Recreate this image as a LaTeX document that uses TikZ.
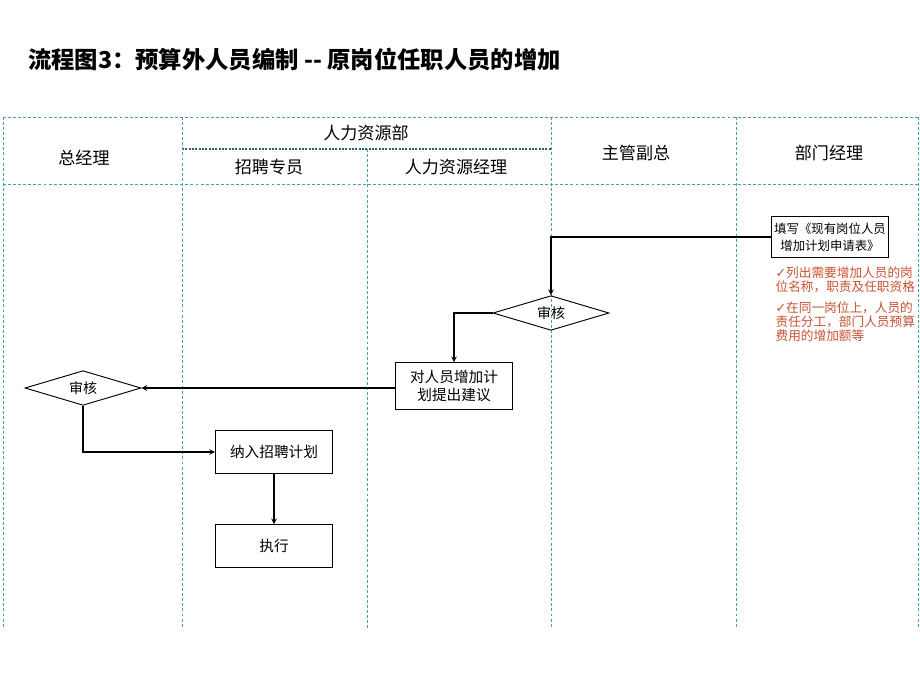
\documentclass[tikz,border=0pt]{standalone}
\usepackage{fontspec}
\setmainfont{Noto Sans CJK SC}
\newfontfamily\symfont{DejaVu Sans}
\usetikzlibrary{shapes.geometric}
\definecolor{laneteal}{RGB}{75,160,172}
\definecolor{subteal}{RGB}{45,95,105}
\definecolor{notered}{RGB}{200,80,50}

\begin{document}
\begin{tikzpicture}[x=0.75pt, y=-0.75pt, >=stealth, line width=0.9pt]
\tikzset{
  lane/.style={draw=laneteal, dash pattern=on 2.2pt off 1.6pt, line width=0.7pt},
  head/.style={font=\fontsize{12.8}{15}\selectfont},
  procbox/.style={draw, line width=0.7pt, minimum width=88pt, minimum height=32pt, align=center, inner sep=1pt, font=\fontsize{11}{14}\selectfont},
  decide/.style={diamond, draw, line width=0.7pt, aspect=3.4, inner sep=0pt, minimum width=87pt, minimum height=26pt, font=\fontsize{10.5}{12}\selectfont},
  flow/.style={->, line width=0.9pt}
}
\useasboundingbox (0,0) rectangle (920,690);

% Title
\node[anchor=west, font=\fontsize{17.5}{20}\selectfont\bfseries] (title) at (23,60) {流程图3：预算外人员编制 -{}- 原岗位任职人员的增加};

% Draw lanes
\draw[lane] (3,117) -- (918,117);
\draw[lane] (3,184) -- (918,184);
\draw[subteal, dash pattern=on 1.5pt off 1pt, line width=0.8pt] (182,149) -- (551,149);
\foreach \x in {3,182,551,736,918}
  \draw[lane] (\x,117) -- (\x,628);
\draw[lane] (367,149) -- (367,628);

% Lane headers
\node[head] (gm) at (84,158) {总经理};
\node[head] (hrd) at (366,133) {人力资源部};
\node[head] (rec) at (269,167) {招聘专员};
\node[head] (hrm) at (456,167) {人力资源经理};
\node[head] (vp) at (636,153) {主管副总};
\node[head] (dm) at (829,153) {部门经理};

% Steps
\node[procbox, minimum height=31pt, font=\fontsize{9.3}{12.8}\selectfont] (form) at (830,237) {填写《现有岗位人员\\增加计划申请表》};
\node[decide] (rev1) at (551,313) {审核};
\node[procbox, minimum height=35pt] (adv) at (454,386) {对人员增加计\\划提出建议};
\node[decide] (rev2) at (83,388) {审核};
\node[procbox] (plan) at (274,452) {纳入招聘计划};
\node[procbox] (exec) at (274,546) {执行};

% Notes
\node[anchor=north west, align=left, inner sep=0pt, text=notered, font=\fontsize{9.5}{10.6}\selectfont] (notes) at (775,266)
  {{\symfont\fontsize{9.5}{10}\selectfont ✓}列出需要增加人员的岗\\位名称，职责及任职资格\\[5pt]{\symfont\fontsize{9.5}{10}\selectfont ✓}在同一岗位上，人员的\\责任分工，部门人员预算\\费用的增加额等};

% Connectors
\draw[flow] (form.west) -| (rev1.north);
\draw[flow] (rev1.west) -| (adv.north);
\draw[flow] (adv.west |- rev2.east) -- (rev2.east);
\draw[flow] (rev2.south) |- (plan.west);
\draw[flow] (plan.south) -- (exec.north);

\end{tikzpicture}
\end{document}
